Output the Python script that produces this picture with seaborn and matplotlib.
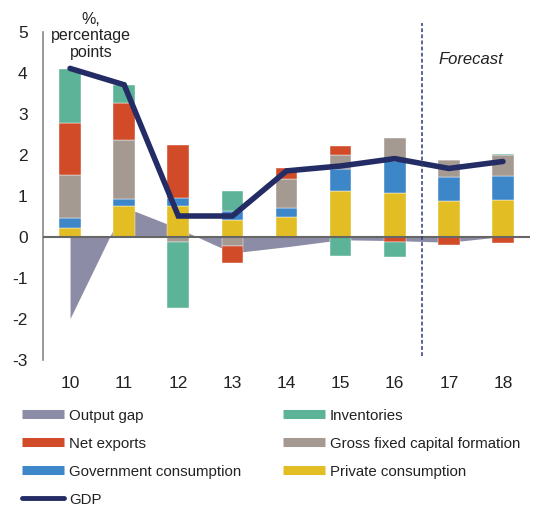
import numpy as np
import pandas as pd
import seaborn as sns
import matplotlib.pyplot as plt
from matplotlib.lines import Line2D

# Dados
anos = [10, 11, 12, 13, 14, 15, 16, 17, 18]
consumo_privado = [0.20, 0.75, 0.74, 0.41, 0.48, 1.11, 1.06, 0.86, 0.90]
consumo_governo = [0.25, 0.16, 0.20, 0.22, 0.22, 0.54, 0.77, 0.59, 0.57]
fbcf = [1.05, 1.44, -0.14, -0.24, 0.70, 0.34, 0.57, 0.41, 0.51]
exportacoes_liq = [1.27, 0.90, 1.30, -0.41, 0.26, 0.21, -0.14, -0.20, -0.17]
estoques = [1.32, 0.44, -1.61, 0.49, -0.02, -0.47, -0.37, 0.00, 0.03]
hiato = [-2.0, 0.72, 0.20, -0.40, -0.25, -0.08, -0.10, -0.14, 0.0]
pib = [4.1, 3.7, 0.5, 0.5, 1.6, 1.72, 1.9, 1.66, 1.83]

df = pd.DataFrame({
    'ano': anos,
    'Private consumption': consumo_privado,
    'Government consumption': consumo_governo,
    'Gross fixed capital formation': fbcf,
    'Net exports': exportacoes_liq,
    'Inventories': estoques,
    'Output gap': hiato,
    'GDP': pib,
})

cores = {
    'Output gap': '#8c8ca6',
    'Inventories': '#5db397',
    'Net exports': '#d14b28',
    'Gross fixed capital formation': '#a59a91',
    'Government consumption': '#3d87c8',
    'Private consumption': '#e3bd24',
    'GDP': '#232c64',
}
componentes = ['Private consumption', 'Government consumption',
               'Gross fixed capital formation', 'Net exports', 'Inventories']

sns.set_theme(style='white')
plt.rcParams['font.family'] = ['Liberation Sans', 'DejaVu Sans']
plt.rcParams['axes.unicode_minus'] = False

fig = plt.figure(figsize=(5.47, 5.10), dpi=100)
ax = fig.add_axes([43 / 547, 1 - 360.5 / 510, 487 / 547, 328 / 510])

# Hiato do produto (área)
ax.fill_between(df['ano'], 0, df['Output gap'], color=cores['Output gap'],
                linewidth=0, zorder=1)

# Barras empilhadas (positivas para cima, negativas para baixo)
base_pos = np.zeros(len(df))
base_neg = np.zeros(len(df))
for comp in componentes:
    vals = df[comp].values
    bottom = np.where(vals >= 0, base_pos, base_neg)
    ax.bar(df['ano'], vals, bottom=bottom, width=0.4, color=cores[comp],
           edgecolor='white', linewidth=0.3, zorder=2)
    base_pos = base_pos + np.where(vals >= 0, vals, 0)
    base_neg = base_neg + np.where(vals < 0, vals, 0)

# Linha do zero
ax.axhline(0, color='#666666', linewidth=1.5, zorder=3)

# PIB
sns.lineplot(data=df, x='ano', y='GDP', color=cores['GDP'], linewidth=4,
             solid_capstyle='round', solid_joinstyle='miter', ax=ax, zorder=4)

# Linha de projeção
ax.plot([16.5, 16.5], [-2.92, 5.2], color='#2b3a7a', linewidth=1.1,
        linestyle=(0, (2.5, 1.5)), clip_on=False, zorder=5)
ax.text(17.4, 4.35, 'Forecast', fontsize=12, style='italic', color='#222222',
        ha='center', va='center')

ax.set_xlim(9.5, 18.5)
ax.set_ylim(-3, 5)
ax.set_xticks(anos)
ax.set_yticks(range(-3, 6))
ax.set_xlabel('')
ax.set_ylabel('')
ax.tick_params(axis='both', length=0, labelsize=12.5, colors='#222222')
ax.tick_params(axis='x', pad=11.5)
ax.tick_params(axis='y', pad=11)
for lado in ['top', 'right', 'bottom']:
    ax.spines[lado].set_visible(False)
ax.spines['left'].set_color('#888888')
ax.spines['left'].set_linewidth(1.2)

fig.text(91 / 547, 1 - 12 / 510, '%,\npercentage\npoints', fontsize=11.5,
         ha='center', va='top', color='#222222', linespacing=1.12)

# Legenda
ordem = ['Output gap', 'Net exports', 'Government consumption', 'GDP',
         'Inventories', 'Gross fixed capital formation', 'Private consumption']
handles = []
for nome in ordem:
    if nome == 'GDP':
        handles.append(Line2D([], [], color=cores[nome], linewidth=3.5,
                              solid_capstyle='round'))
    else:
        handles.append(Line2D([], [], color=cores[nome], linewidth=6.5,
                              solid_capstyle='butt'))
fig.legend(handles, ordem, ncol=2, loc='upper left',
           bbox_to_anchor=(22 / 547, 1 - 409 / 510), frameon=False,
           fontsize=10.8, handlelength=2.8, handletextpad=0.35,
           columnspacing=2.75, labelspacing=0.94, borderpad=0,
           borderaxespad=0, labelcolor='#222222')

fig.savefig('out.png', dpi=100)
